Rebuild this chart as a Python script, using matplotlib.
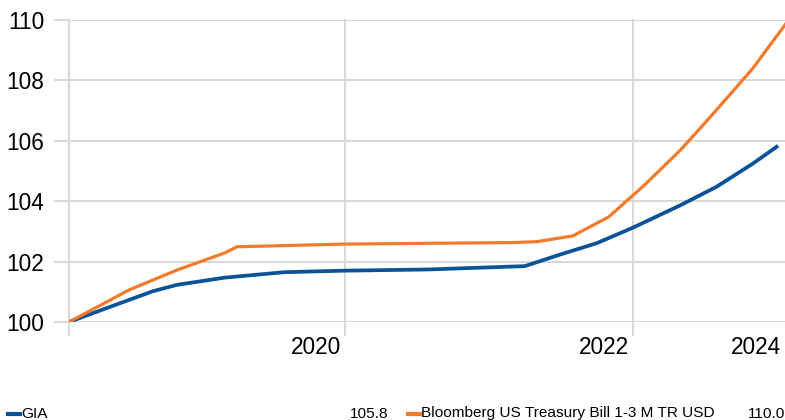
import numpy as np
import matplotlib.pyplot as plt
from matplotlib.lines import Line2D
import matplotlib.transforms as mtransforms

# months since start of series
gia_x = [0, 3, 7, 9, 13, 18, 23, 30, 38, 41, 44, 47, 51, 54, 57, 59]
gia_y = [100.0, 100.44, 101.02, 101.23, 101.47, 101.65, 101.70, 101.74, 101.85,
         102.24, 102.61, 103.12, 103.87, 104.48, 105.24, 105.8]
bbg_x = [0, 5, 9, 13, 14, 23, 37, 39, 42, 45, 48, 51, 53, 55, 57, 60]
bbg_y = [100.0, 101.06, 101.72, 102.29, 102.49, 102.58, 102.63, 102.66, 102.85,
         103.48, 104.54, 105.70, 106.58, 107.48, 108.39, 110.0]

grid_months = [0, 23, 47]
label_months = [23, 47, 59.7]
year_labels = ['2020', '2022', '2024']
y_ticks = [100, 102, 104, 106, 108, 110]

names = ['GIA', 'Bloomberg US Treasury Bill 1-3 M TR USD']
last_vals = ['105.8', '110.0']
colors = ['#0a5398', '#f47a2b']
gridc = '#d9d9d9'

plt.rcParams['font.family'] = ['Liberation Sans', 'DejaVu Sans']

fig = plt.figure(figsize=(7.85, 4.2), dpi=100)
ax = fig.add_axes([69/785, 98/420, 716/785, 302/420])

ax.plot(gia_x, gia_y, color=colors[0], lw=2.7, solid_joinstyle='round', zorder=3)
ax.plot(bbg_x, bbg_y, color=colors[1], lw=2.3, solid_joinstyle='round', zorder=3)

ax.set_xlim(0, 59.7)
ax.set_ylim(100, 110)
for s in ax.spines.values():
    s.set_visible(False)

ax.set_yticks(y_ticks)
ax.set_yticklabels([str(v) for v in y_ticks], fontsize=16.3)
ax.tick_params(axis='y', length=10.8, width=1.5, color=gridc, pad=7)
ax.yaxis.grid(True, color=gridc, lw=1.5)

# vertical grid lines run a little below the plot, like tick marks
for m in grid_months:
    ax.axvline(m, ymin=-13/302, ymax=1, color=gridc, lw=1.5, clip_on=False, zorder=1)

ax.set_xticks(label_months)
ax.set_xticklabels(year_labels, fontsize=16.3, ha='right')
ax.tick_params(axis='x', which='major', length=0, pad=10)
off = mtransforms.ScaledTranslation(-4/100, 0, fig.dpi_scale_trans)
for lab in ax.get_xticklabels():
    lab.set_transform(lab.get_transform() + off)
ax.set_axisbelow(True)

# legend row
ly = 1 - 413.5/420
fs = 11.1
fig.add_artist(Line2D([8/785, 20/785], [ly, ly], color=colors[0], lw=3, transform=fig.transFigure))
fig.text(21/785, ly, names[0], fontsize=fs, va='center', ha='left')
fig.text(388/785, ly, last_vals[0], fontsize=fs, va='center', ha='right')
fig.add_artist(Line2D([408/785, 420/785], [ly, ly], color=colors[1], lw=3, transform=fig.transFigure))
fig.text(421/785, ly, names[1], fontsize=fs, va='center', ha='left')
fig.text(785/785, ly, last_vals[1], fontsize=fs, va='center', ha='right')

fig.savefig('out.png', dpi=100)
